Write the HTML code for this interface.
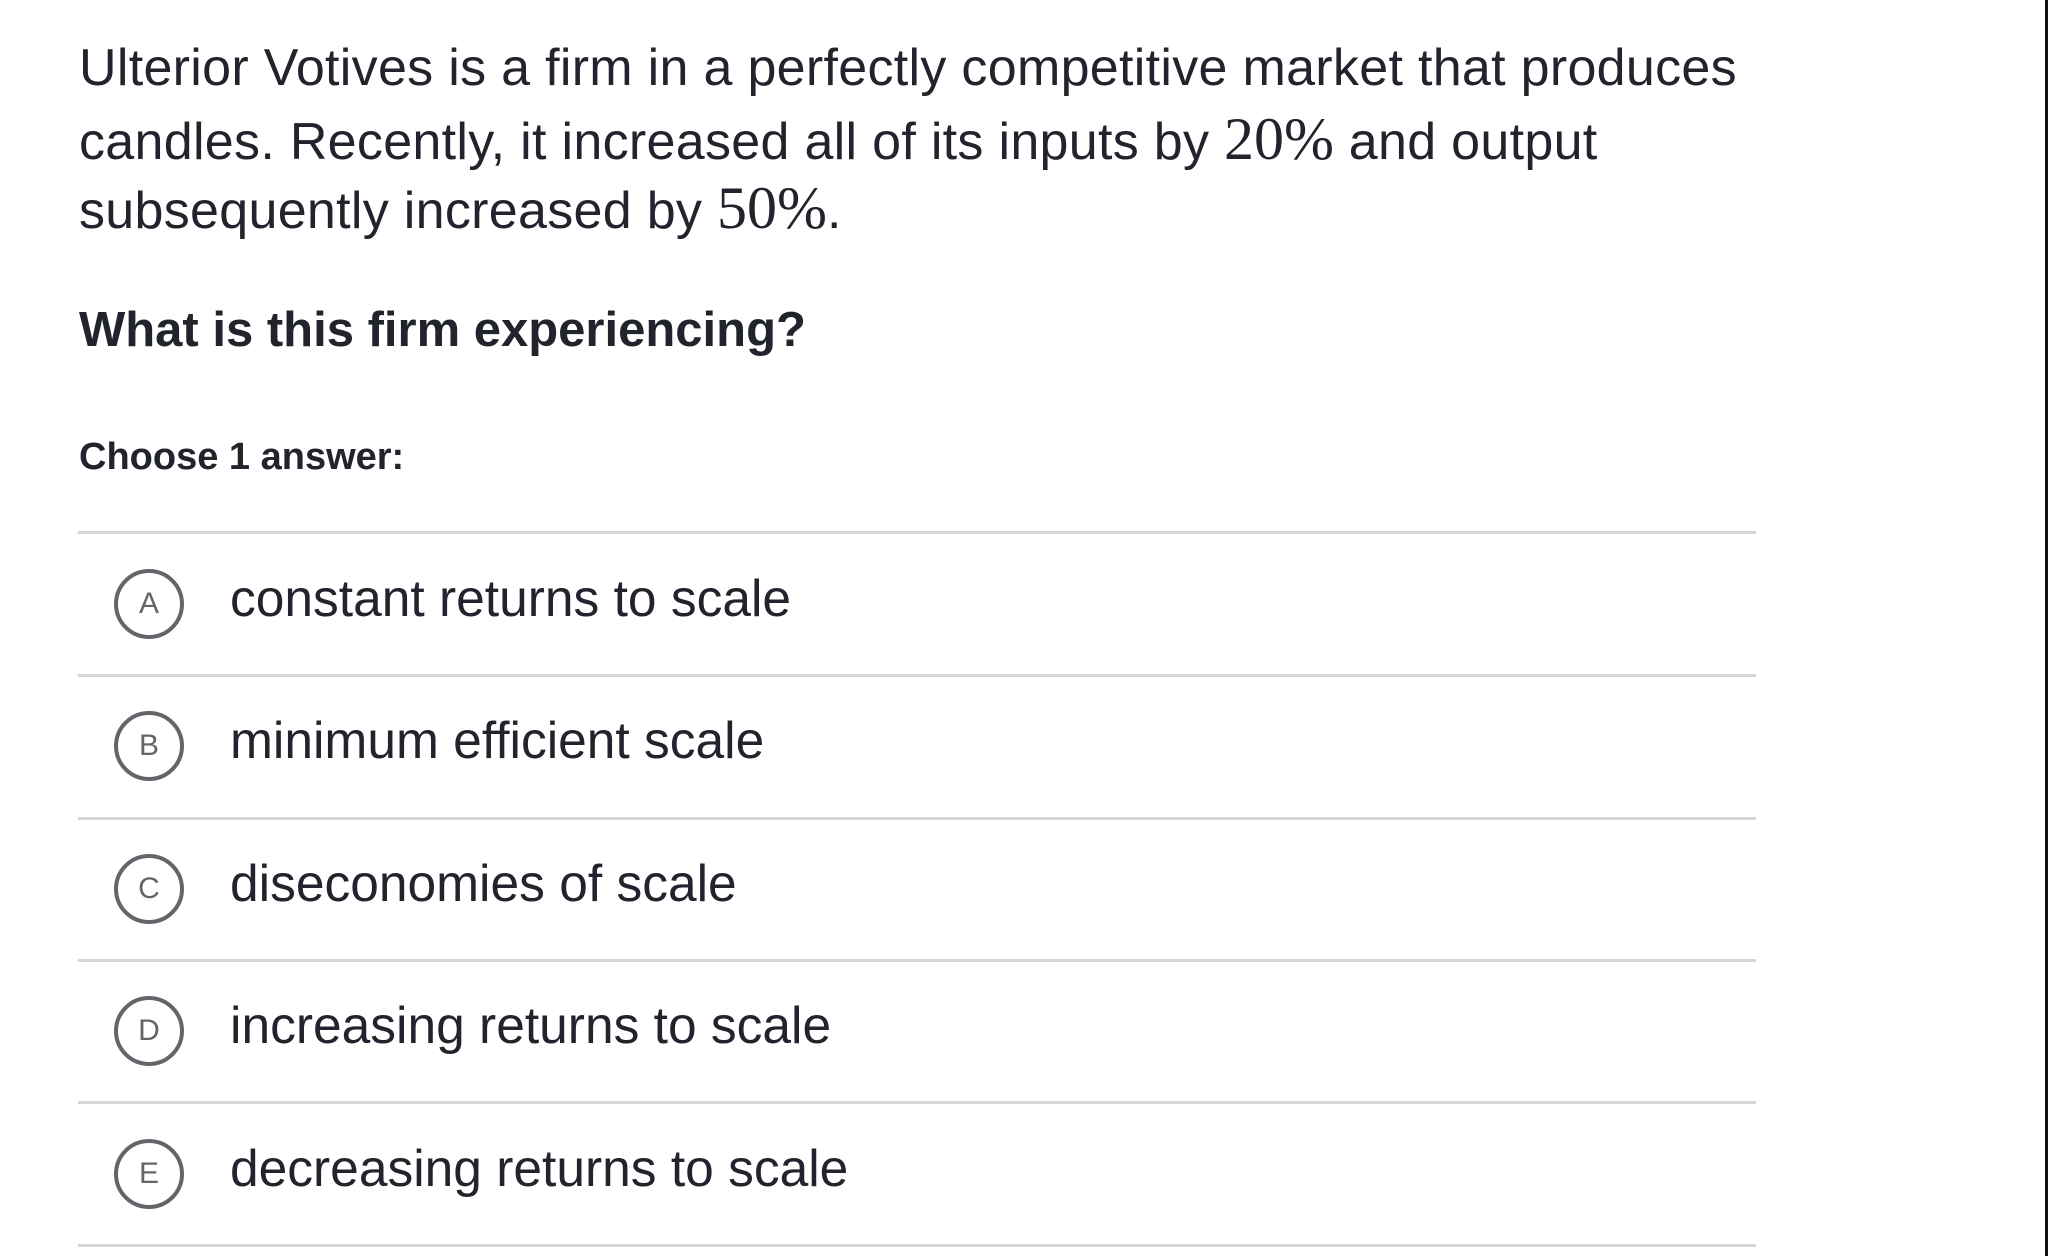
<!DOCTYPE html>
<html><head><style>
body{margin:0;width:2048px;height:1256px;background:#fff;position:relative;overflow:hidden;font-family:"Liberation Sans",sans-serif;color:#21242c}
.p{position:absolute;left:79px;font-size:52px;white-space:nowrap;letter-spacing:0.3px}
.m{font-family:"Liberation Serif",serif;font-size:60px;letter-spacing:0}
.hr{position:absolute;left:78px;width:1678px;height:3px;background:#d6d6d6}
.c{position:absolute;left:114px;width:62px;height:62px;border:4px solid #626569;border-radius:50%;box-sizing:content-box;text-align:center;line-height:62px;font-size:30px;color:#626569}
.o{position:absolute;left:230px;font-size:51.5px;white-space:nowrap;letter-spacing:0}
</style></head><body>
<div class="p" style="top:38px">Ulterior Votives is a firm in a perfectly competitive market that produces</div>
<div class="p" style="top:105px">candles. Recently, it increased all of its inputs by <span class="m">20%</span> and output</div>
<div class="p" style="top:174px">subsequently increased by <span class="m">50%</span>.</div>
<div class="p" style="top:302px;font-weight:bold;font-size:49px;letter-spacing:0">What is this firm experiencing?</div>
<div class="p" style="top:436px;font-weight:bold;font-size:38px;letter-spacing:0">Choose 1 answer:</div>
<div class="hr" style="top:531px"></div>
<div class="c" style="top:569px">A</div><div class="o" style="top:568px">constant returns to scale</div>
<div class="hr" style="top:674px"></div>
<div class="c" style="top:711px">B</div><div class="o" style="top:710px">minimum efficient scale</div>
<div class="hr" style="top:817px"></div>
<div class="c" style="top:854px">C</div><div class="o" style="top:853px">diseconomies of scale</div>
<div class="hr" style="top:959px"></div>
<div class="c" style="top:996px">D</div><div class="o" style="top:995px">increasing returns to scale</div>
<div class="hr" style="top:1101px"></div>
<div class="c" style="top:1139px">E</div><div class="o" style="top:1138px">decreasing returns to scale</div>
<div class="hr" style="top:1244px"></div>
<div style="position:absolute;left:2045px;top:0;width:3px;height:1256px;background:#111"></div>
</body></html>
